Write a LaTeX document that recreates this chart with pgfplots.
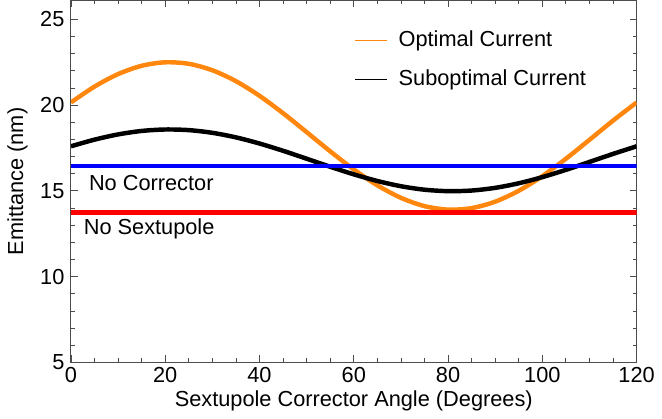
\documentclass[border=0pt]{standalone}
\usepackage{fontspec}
\setmainfont{Liberation Sans}
\usepackage{pgfplots}
\pgfplotsset{compat=1.18}
\definecolor{optorange}{rgb}{1,0.53,0.05}
\begin{document}
\fontsize{22}{26}\selectfont
\begin{tikzpicture}
\begin{axis}[
  scale only axis,
  width=572pt, height=366pt,
  xmin=0, xmax=120, ymin=5, ymax=26.1,
  xtick={0,20,...,120}, ytick={5,10,...,25},
  minor x tick num=3, minor y tick num=4,
  tick align=inside,
  major tick length=7pt, minor tick length=4pt,
  tick style={black!70, line width=0.8pt},
  axis line style={black!70, line width=0.9pt},
  /pgf/number format/assume math mode=true,
  ticklabel style={font=\fontsize{22}{26}\selectfont},
  xticklabel style={yshift=3pt},
  yticklabel style={xshift=1pt},
  label style={font=\fontsize{22}{26}\selectfont},
  xlabel={Sextupole Corrector Angle (Degrees)},
  ylabel={Emittance (nm)},
  xlabel style={yshift=6pt},
  ylabel style={yshift=-2pt},
  legend style={at={(0.495,0.927)}, anchor=north west, draw=none, fill=none,
    font=\fontsize{22}{26}\selectfont, row sep=16pt, cells={anchor=west}},
  legend image code/.code={\draw[#1, line width=1.6pt] (0pt,0pt) -- (32pt,0pt); \path (40pt,0pt);},
]
\addplot[optorange, line width=4.5pt, smooth] coordinates {
(0,20.152) (5,21.077) (10,21.806) (15,22.290) (20,22.494) (25,22.406)
(30,22.031) (35,21.395) (40,20.542) (45,19.529) (50,18.425) (55,17.306)
(60,16.248) (65,15.323) (70,14.594) (75,14.110) (80,13.906) (85,13.994)
(90,14.369) (95,15.005) (100,15.858) (105,16.871) (110,17.975) (115,19.094)
(120,20.152)};
\addlegendentry{Optimal Current}
\addplot[black, line width=4.5pt, smooth] coordinates {
(0,17.597) (5,17.984) (10,18.290) (15,18.492) (20,18.577) (25,18.541)
(30,18.384) (35,18.118) (40,17.760) (45,17.336) (50,16.874) (55,16.406)
(60,15.963) (65,15.576) (70,15.270) (75,15.068) (80,14.983) (85,15.019)
(90,15.176) (95,15.442) (100,15.800) (105,16.224) (110,16.686) (115,17.154)
(120,17.597)};
\addlegendentry{Suboptimal Current}
\addplot[blue, line width=4.5pt, forget plot] coordinates {(0,16.45) (120,16.45)};
\addplot[red, line width=4.5pt, forget plot] coordinates {(0,13.75) (120,13.75)};
\node[anchor=west, inner sep=0pt] at (axis cs:3.8,15.45) {No Corrector};
\node[anchor=west, inner sep=0pt] at (axis cs:2.7,12.8) {No Sextupole};
\end{axis}
\end{tikzpicture}
\end{document}
